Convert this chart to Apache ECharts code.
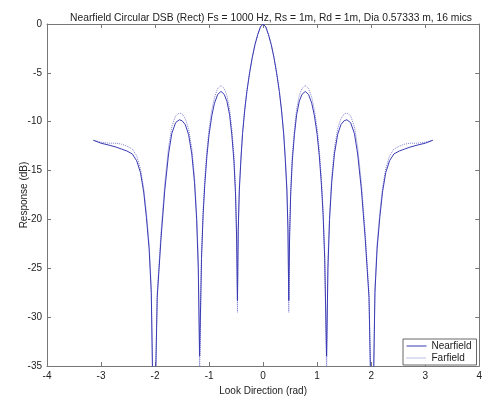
<!DOCTYPE html>
<html>
<head>
<meta charset="utf-8">
<script src="https://cdn.jsdelivr.net/npm/echarts@6/dist/echarts.min.js"></script>
<style>
html,body{margin:0;padding:0;background:#fff;}
#chart{width:485px;height:401px;}
</style>
</head>
<body>
<div id="chart"></div>
<script>
// Look direction (rad)
var lookDirection = [
 -3.14, -3.00, -2.85, -2.72, -2.62, -2.52, -2.42, -2.34, -2.27, -2.21, -2.16, -2.11, -2.07, -2.02, -1.96, -1.89, -1.82, -1.75, -1.69, -1.62,
 -1.55, -1.50, -1.44, -1.38, -1.32, -1.27, -1.23, -1.20, -1.175, -1.14, -1.11, -1.08, -1.04, -1.00, -0.95, -0.90, -0.84, -0.78, -0.72, -0.67,
 -0.62, -0.58, -0.54, -0.51, -0.49, -0.475, -0.46, -0.44, -0.41, -0.38, -0.34, -0.30, -0.25, -0.20, -0.15, -0.10, -0.05,
 0,
 0.05, 0.10, 0.15, 0.20, 0.25, 0.30, 0.34, 0.38, 0.41, 0.44, 0.46, 0.475, 0.49, 0.51, 0.54, 0.58, 0.62, 0.67, 0.72, 0.78,
 0.84, 0.90, 0.95, 1.00, 1.04, 1.08, 1.11, 1.14, 1.175, 1.20, 1.23, 1.27, 1.32, 1.38, 1.44, 1.50, 1.55, 1.62, 1.69, 1.75,
 1.82, 1.89, 1.96, 2.02, 2.07, 2.11, 2.16, 2.21, 2.27, 2.34, 2.42, 2.52, 2.62, 2.72, 2.85, 3.00, 3.14
];
// Nearfield response (dB)
var nearfield = [
 -11.9, -12.2, -12.4, -12.6, -12.8, -13.0, -13.3, -14.0, -15.2, -17.2, -19.8, -23, -27.5, -45, -28, -22, -17, -13.3, -11.2, -10.1,
 -9.8, -9.9, -10.3, -11.3, -13.3, -16.2, -20, -25, -34, -24, -19.5, -16.5, -13.5, -11.3, -9.4, -8.1, -7.2, -6.9, -7.2, -7.9,
 -9.3, -11.3, -14, -17.5, -22, -28.3, -21, -17.0, -13.8, -11.2, -8.8, -6.9, -5.0, -3.4, -2.1, -1.1, -0.3,
 0,
 -0.3, -1.1, -2.1, -3.4, -5.0, -6.9, -8.8, -11.2, -13.8, -17.0, -21, -28.3, -22, -17.5, -14, -11.3, -9.3, -7.9, -7.2, -6.9,
 -7.2, -8.1, -9.4, -11.3, -13.5, -16.5, -19.5, -24, -34, -25, -20, -16.2, -13.3, -11.3, -10.3, -9.9, -9.8, -10.1, -11.2, -13.3,
 -17, -22, -28, -45, -27.5, -23, -19.8, -17.2, -15.2, -14.0, -13.3, -13.0, -12.8, -12.6, -12.4, -12.2, -11.9
];
// Farfield response (dB)
var farfield = [
 -11.9, -12.1, -12.2, -12.2, -12.3, -12.5, -12.8, -13.5, -14.8, -16.8, -19.3, -22.5, -27, -45, -27.5, -21.3, -16.3, -12.6, -10.5, -9.4,
 -9.1, -9.2, -9.7, -10.7, -12.7, -15.6, -19.5, -24, -36, -23.5, -19, -15.9, -12.9, -10.7, -8.8, -7.5, -6.6, -6.3, -6.6, -7.3,
 -8.7, -10.7, -13.4, -17, -21.5, -29.5, -21, -16.8, -13.6, -11.0, -8.7, -6.8, -5.0, -3.4, -2.1, -1.1, -0.3,
 0,
 -0.3, -1.1, -2.1, -3.4, -5.0, -6.8, -8.7, -11.0, -13.6, -16.8, -21, -29.5, -21.5, -17, -13.4, -10.7, -8.7, -7.3, -6.6, -6.3,
 -6.6, -7.5, -8.8, -10.7, -12.9, -15.9, -19, -23.5, -36, -24, -19.5, -15.6, -12.7, -10.7, -9.7, -9.2, -9.1, -9.4, -10.5, -12.6,
 -16.3, -21.3, -27.5, -45, -27, -22.5, -19.3, -16.8, -14.8, -13.5, -12.8, -12.5, -12.3, -12.2, -12.2, -12.1, -11.9
];
var seriesNames = ['Nearfield', 'Farfield'];
var titleText = 'Nearfield Circular DSB (Rect) Fs = 1000 Hz, Rs = 1m, Rd = 1m, Dia 0.57333 m, 16 mics';
var xName = 'Look Direction (rad)';
var yName = 'Response (dB)';

function pairs(ys){ return lookDirection.map(function(x,i){ return [x, ys[i]]; }); }

var font = 'Liberation Sans, Arial, sans-serif';
var axisCol = '#777';
var chart = echarts.init(document.getElementById('chart'), null, {renderer:'canvas'});
chart.setOption({
  animation: false,
  backgroundColor: '#fff',
  textStyle: {fontFamily: font},
  title: {
    text: titleText, left: 65, top: 8,
    textStyle: {fontSize: 10.3, fontWeight: 'normal', color: '#222', fontFamily: font}
  },
  grid: {left: 47, top: 24, right: 0, bottom: 28, containLabel: false},
  legend: {
    orient: 'vertical', left: 403, top: 339,
    data: seriesNames,
    itemWidth: 20, itemHeight: 8, itemGap: 2,
    padding: [2, 5, 2, 3],
    borderColor: '#666', borderWidth: 1, backgroundColor: '#fff',
    itemStyle: {opacity: 0},
    lineStyle: {width: 1},
    textStyle: {fontSize: 10, color: '#222', fontFamily: font}
  },
  xAxis: [{
    type: 'value', min: -4, max: 4, interval: 1,
    name: xName, nameLocation: 'middle', nameGap: 20, nameMoveOverlap: false,
    nameTextStyle: {fontSize: 10, color: '#222'},
    axisLine: {show: true, onZero: false, lineStyle: {color: axisCol}},
    axisTick: {show: true, inside: true, length: 4, lineStyle: {color: axisCol}},
    axisLabel: {fontSize: 10, color: '#222', margin: 5},
    splitLine: {show: false}
  }, {
    type: 'value', min: -4, max: 4, interval: 1, position: 'top',
    axisLine: {show: true, onZero: false, lineStyle: {color: axisCol}},
    axisTick: {show: true, inside: true, length: 4, lineStyle: {color: axisCol}},
    axisLabel: {show: false}, splitLine: {show: false}
  }],
  yAxis: [{
    type: 'value', min: -35, max: 0, interval: 5,
    name: yName, nameLocation: 'middle', nameGap: 18, nameRotate: 90, nameMoveOverlap: false,
    nameTextStyle: {fontSize: 10, color: '#222'},
    axisLine: {show: true, onZero: false, lineStyle: {color: axisCol}},
    axisTick: {show: true, inside: true, length: 4, lineStyle: {color: axisCol}},
    axisLabel: {fontSize: 10, color: '#222', margin: 5},
    splitLine: {show: false}
  }, {
    type: 'value', min: -35, max: 0, interval: 5, position: 'right',
    axisLine: {show: true, onZero: false, lineStyle: {color: axisCol}},
    axisTick: {show: true, inside: true, length: 4, lineStyle: {color: axisCol}},
    axisLabel: {show: false}, splitLine: {show: false}
  }],
  series: [{
    name: seriesNames[0], type: 'line', data: pairs(nearfield),
    symbol: 'none', clip: true, z: 3,
    lineStyle: {color: '#3a3ab4', width: 1, type: 'solid'},
    itemStyle: {color: '#3a3ab4'}
  }, {
    name: seriesNames[1], type: 'line', data: pairs(farfield),
    symbol: 'none', clip: true, z: 2,
    lineStyle: {color: '#8080d0', width: 1, type: 'dotted'},
    itemStyle: {color: '#8080d0'}
  }]
});
</script>
</body>
</html>
